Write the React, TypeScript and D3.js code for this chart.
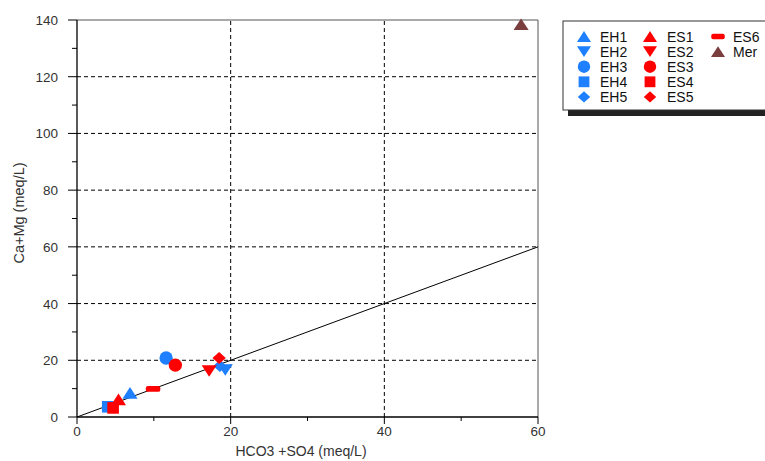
import React from "react";
import * as d3 from "d3";

const seriesNames = ["EH1", "EH2", "EH3", "EH4", "EH5", "ES1", "ES2", "ES3", "ES4", "ES5", "ES6", "Mer"];
const seriesShapes = ["up", "down", "circle", "square", "diamond", "up", "down", "circle", "square", "diamond", "dash", "up"];
const seriesColors = ["#1E7FFF", "#1E7FFF", "#1E7FFF", "#1E7FFF", "#1E7FFF", "#FF0000", "#FF0000", "#FF0000", "#FF0000", "#FF0000", "#FF0000", "#7A3E3E"];
const xValues = [6.9, 19.3, 11.6, 4.0, 18.6, 5.4, 17.2, 12.8, 4.7, 18.5, 9.9, 57.8];
const yValues = [8.5, 16.6, 20.8, 3.6, 18.0, 6.2, 16.2, 18.3, 3.2, 20.8, 9.9, 138.5];
const drawOrder = [0, 1, 2, 3, 4, 11, 5, 6, 7, 8, 9, 10];
const xTicks = [0, 20, 40, 60];
const yTicks = [0, 20, 40, 60, 80, 100, 120, 140];
const xMinor = [10, 30, 50];
const yMinor = [10, 30, 50, 70, 90, 110, 130];
const refLine = [[0, 0], [60, 60]];

function Marker({ shape, cx, cy, color, s }: { shape: string; cx: number; cy: number; color: string; s: number }) {
  if (shape === "circle") return <circle cx={cx} cy={cy} r={s * 0.46} fill={color} />;
  if (shape === "square") return <rect x={cx - s * 0.4} y={cy - s * 0.4} width={s * 0.8} height={s * 0.8} fill={color} />;
  if (shape === "diamond") {
    const hw = s * 0.46, hh = s * 0.42;
    return <path d={`M${cx},${cy - hh}L${cx + hw},${cy}L${cx},${cy + hh}L${cx - hw},${cy}Z`} fill={color} />;
  }
  if (shape === "dash") return <rect x={cx - s * 0.5} y={cy - s * 0.2} width={s} height={s * 0.4} rx={s * 0.15} fill={color} />;
  const w = s * 0.52;
  const h = s * 0.4;
  if (shape === "down") return <path d={`M${cx - w},${cy - h}L${cx + w},${cy - h}L${cx},${cy + h}Z`} fill={color} />;
  return <path d={`M${cx - w},${cy + h}L${cx + w},${cy + h}L${cx},${cy - h}Z`} fill={color} />;
}

export default function App() {
  const W = 765, H = 461;
  const x = d3.scaleLinear().domain([0, 60]).range([77, 538]);
  const y = d3.scaleLinear().domain([0, 140]).range([417, 20]);
  const line = d3.line<number[]>().x(d => x(d[0])).y(d => y(d[1]));
  const font = "Arial, 'Liberation Sans', sans-serif";
  const legCols = [584, 650, 718];
  const legTextDx = [16, 17, 15];
  const legRow0 = 36.5, legDy = 15.1;
  return (
    <svg width={W} height={H} style={{ position: "absolute", left: 0, top: 0, background: "#fff" }} fontFamily={font}>
      {/* grid */}
      {xTicks.filter(t => t > 0 && t < 60).map(t => (
        <line key={"gx" + t} x1={x(t)} x2={x(t)} y1={y(0)} y2={y(140)} stroke="#000" strokeWidth={1} strokeDasharray="4,3" />
      ))}
      {yTicks.filter(t => t > 0 && t < 140).map(t => (
        <line key={"gy" + t} x1={x(0)} x2={x(60)} y1={y(t)} y2={y(t)} stroke="#000" strokeWidth={1} strokeDasharray="4,3" />
      ))}
      {/* frame */}
      <line x1={x(0)} x2={x(60)} y1={y(140)} y2={y(140)} stroke="#555" strokeWidth={1} />
      <line x1={x(60)} x2={x(60)} y1={y(0)} y2={y(140)} stroke="#555" strokeWidth={1} />
      <line x1={x(0)} x2={x(60)} y1={y(0)} y2={y(0)} stroke="#000" strokeWidth={1.3} />
      <line x1={x(0)} x2={x(0)} y1={y(0)} y2={y(140)} stroke="#000" strokeWidth={1.3} />
      {/* ticks */}
      {xTicks.map(t => (
        <g key={"xt" + t}>
          <line x1={x(t)} x2={x(t)} y1={y(0)} y2={y(0) + 7} stroke="#000" />
          <text x={x(t)} y={y(0) + 19} textAnchor="middle" fontSize={13.5} fill="#333">{t}</text>
        </g>
      ))}
      {xMinor.map(t => (
        <line key={"xm" + t} x1={x(t)} x2={x(t)} y1={y(0)} y2={y(0) + 4} stroke="#000" />
      ))}
      {yTicks.map(t => (
        <g key={"yt" + t}>
          <line x1={x(0) - 9} x2={x(0)} y1={y(t)} y2={y(t)} stroke="#000" />
          <text x={x(0) - 19} y={y(t) + 5} textAnchor="end" fontSize={13.5} fill="#333">{t}</text>
        </g>
      ))}
      {yMinor.map(t => (
        <line key={"ym" + t} x1={x(0) - 5} x2={x(0)} y1={y(t)} y2={y(t)} stroke="#000" />
      ))}
      {/* axis titles */}
      <text x={301} y={456} textAnchor="middle" fontSize={14} fill="#333">HCO3 +SO4 (meq/L)</text>
      <text transform={`translate(24,213) rotate(-90)`} textAnchor="middle" fontSize={14.5} fill="#333">Ca+Mg (meq/L)</text>
      {/* reference line */}
      <path d={line(refLine as number[][]) || ""} stroke="#000" strokeWidth={1} fill="none" />
      {/* points */}
      {drawOrder.map(i => (
        <Marker key={"p" + i} shape={seriesShapes[i]} cx={x(xValues[i])} cy={y(yValues[i])} color={seriesColors[i]} s={14.5} />
      ))}
      {/* legend */}
      <rect x={568} y={26} width={220} height={90} fill="#222" />
      <rect x={563} y={21} width={220} height={89} fill="#fff" stroke="#333" strokeWidth={1} />
      {seriesNames.map((n, i) => {
        const col = Math.floor(i / 5);
        const row = i % 5;
        const cx = legCols[col];
        const cy = legRow0 + row * legDy;
        return (
          <g key={"l" + i}>
            <Marker shape={seriesShapes[i]} cx={cx} cy={cy} color={seriesColors[i]} s={13.5} />
            <text x={cx + legTextDx[col]} y={cy + 5} fontSize={14} fill="#111">{n}</text>
          </g>
        );
      })}
    </svg>
  );
}
